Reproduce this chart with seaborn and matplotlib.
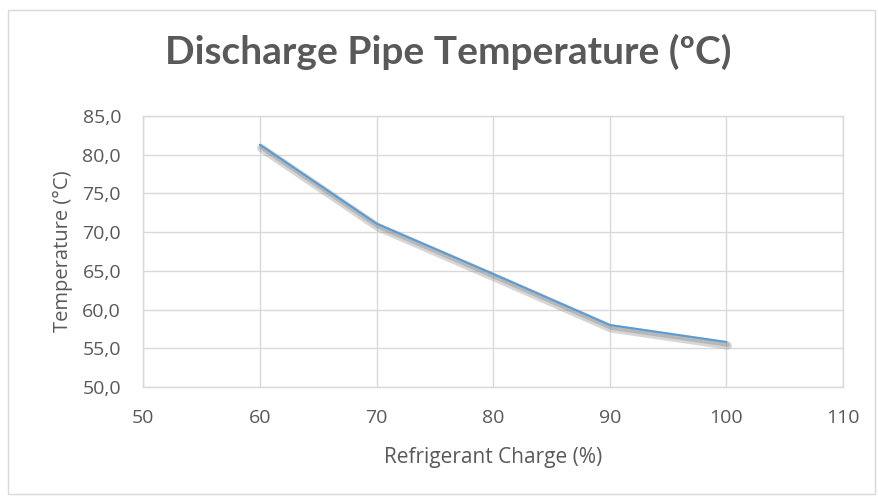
import numpy as np
import pandas as pd
import matplotlib
matplotlib.use("Agg")
import matplotlib.pyplot as plt
import matplotlib.patheffects as pe
from matplotlib.patches import Rectangle
from matplotlib.ticker import FuncFormatter, MultipleLocator
import seaborn as sns

# data
charge = [60, 70, 80, 90, 100]
temperature = [81.3, 71.1, 64.6, 58.0, 55.8]

df = pd.DataFrame({"charge": charge, "temperature": temperature})

sns.set_theme(style="white")
plt.rcParams["font.family"] = ["Open Sans", "DejaVu Sans"]

grey_txt = "#595959"
grid_col = "#D9D9D9"

fig = plt.figure(figsize=(8.79, 4.96), dpi=100)
ax = fig.add_axes([0.163, 0.220, 0.796, 0.546])

# outer chart border
fig.patches.append(Rectangle((0.009, 0.004), 0.986, 0.976, transform=fig.transFigure,
                             fill=False, edgecolor=grid_col, linewidth=1))

sns.lineplot(data=df, x="charge", y="temperature", ax=ax, color="#5B9BD5", linewidth=1.5,
             path_effects=[pe.SimpleLineShadow(offset=(1, -2.5), shadow_color="#8C8C8C",
                                               alpha=0.35, linewidth=6),
                           pe.SimpleLineShadow(offset=(1, -2), shadow_color="#7F7F7F",
                                               alpha=0.35, linewidth=3),
                           pe.Normal()])

ax.set_xlim(50, 110)
ax.set_ylim(50, 85)
ax.xaxis.set_major_locator(MultipleLocator(10))
ax.yaxis.set_major_locator(MultipleLocator(5))
ax.yaxis.set_major_formatter(FuncFormatter(lambda v, p: f"{v:.1f}".replace(".", ",")))

ax.grid(True, color=grid_col, linewidth=1)
for s in ax.spines.values():
    s.set_color(grid_col)
    s.set_linewidth(1)
ax.tick_params(axis="both", length=0, labelsize=14, colors=grey_txt)
ax.tick_params(axis="x", pad=16)
ax.tick_params(axis="y", pad=16)

ax.set_xlabel("Refrigerant Charge (%)", fontsize=15, color=grey_txt, labelpad=14)
ax.set_ylabel("Temperature (°C)", fontsize=14.5, color=grey_txt, labelpad=7)
fig.text(0.51, 0.895, "Discharge Pipe Temperature (ºC)", ha="center", va="center",
         fontsize=28, fontweight="bold", color=grey_txt, family=["Lato", "DejaVu Sans"])

fig.savefig("out.png", dpi=100, facecolor="white")
